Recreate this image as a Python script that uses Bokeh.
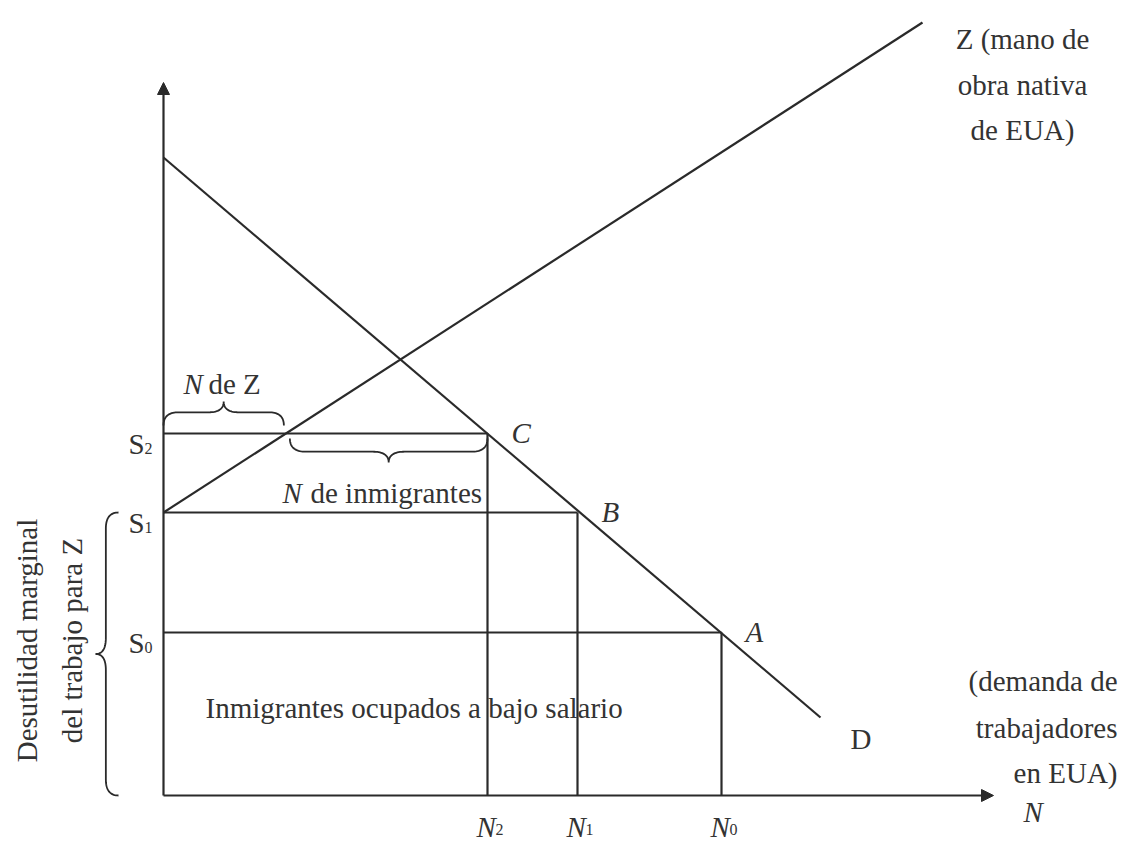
import numpy as np
from bokeh.plotting import figure
from bokeh.models import Arrow, NormalHead
from bokeh.core.properties import value
from bokeh.embed import file_html
from bokeh.resources import INLINE

# ---- data (diagram units) ----
S_labels = ["S", "S", "S"]
S_subs = ["0", "1", "2"]
S_vals = [163, 283, 362]          # S0, S1, S2
N_subs = ["0", "1", "2"]
N_vals = [558, 414, 324]          # N0, N1, N2
point_names = ["A", "B", "C"]
D_x = [0, 657]                    # demand line
D_y = [638, 78]
Z_x = [0, 759]                    # native labour supply line
Z_y = [283, 773]
x_axis_end = 830
y_axis_end = 713

Z_text = ["Z (mano de", "obra nativa", "de EUA)"]
D_text = ["(demanda de", "trabajadores", "en EUA)"]
y_title = ["Desutilidad marginal", "del trabajo para Z"]
area_text = "Inmigrantes ocupados a bajo salario"

INK = "#2a2a2a"
TXT = "#333333"
SERIF = value("Liberation Serif")
FS = "29px"
SUBFS = "16px"

W, H = 1121, 844
p = figure(width=W, height=H, x_range=(-163, -163 + W), y_range=(795 - H, 795),
           output_backend="svg", toolbar_location=None, min_border=0,
           background_fill_color="white", border_fill_color="white")
p.axis.visible = False
p.grid.visible = False
p.outline_line_color = None

# axes with arrowheads
p.add_layout(Arrow(end=NormalHead(size=12, fill_color=INK, line_color=INK, line_width=1),
                   x_start=0, y_start=0, x_end=0, y_end=y_axis_end,
                   line_color=INK, line_width=2.2))
p.add_layout(Arrow(end=NormalHead(size=12, fill_color=INK, line_color=INK, line_width=1),
                   x_start=0, y_start=0, x_end=x_axis_end, y_end=0,
                   line_color=INK, line_width=2.2))

# curves
p.line(D_x, D_y, line_color=INK, line_width=2.2)
p.line(Z_x, Z_y, line_color=INK, line_width=2.2)

# horizontal and vertical guide lines at S levels / N levels
p.segment(x0=[0] * 3, y0=S_vals, x1=N_vals, y1=S_vals, line_color=INK, line_width=2.2)
p.segment(x0=N_vals, y0=[0] * 3, x1=N_vals, y1=S_vals, line_color=INK, line_width=2.2)


def brace(a, b, base, depth, horizontal=True):
    """Curly brace from a to b, ends at `base`, tip at base+depth."""
    L = b - a
    q = min(16.0, abs(L) / 8.0)
    h = depth * 0.55
    t = np.linspace(0, 1, 20)

    def quad(P0, P1, P2):
        P0, P1, P2 = map(np.array, (P0, P1, P2))
        return ((1 - t)[:, None] ** 2 * P0 + 2 * ((1 - t) * t)[:, None] * P1
                + (t ** 2)[:, None] * P2)

    m = L / 2.0
    pts = np.vstack([
        quad((0, 0), (0, h), (q, h)),
        quad((m - q, h), (m, h), (m, depth)),
        quad((m, depth), (m, h), (m + q, h)),
        quad((L - q, h), (L, h), (L, 0)),
    ])
    u = a + pts[:, 0]
    v = base + pts[:, 1]
    if horizontal:
        return list(u), list(v)
    return list(v), list(u)


z_slope = (Z_y[1] - Z_y[0]) / (Z_x[1] - Z_x[0])
xz = (S_vals[2] - Z_y[0]) / z_slope   # where Z crosses S2

bx, by = brace(0, xz - 2, S_vals[2] + 8, 24)
p.line(bx, by, line_color=INK, line_width=1.8)
bx, by = brace(xz + 4, N_vals[2], S_vals[2] - 5, -24)
p.line(bx, by, line_color=INK, line_width=1.8)
bx, by = brace(0, S_vals[1], -45, -23, horizontal=False)
p.line(bx, by, line_color=INK, line_width=1.8)

# S labels
p.text(x=[-35] * 3, y=[s - 10 for s in S_vals], text=S_labels, text_font=SERIF,
       text_font_size=FS, text_color=TXT, text_align="left", text_baseline="alphabetic")
p.text(x=[-19] * 3, y=[s - 15 for s in S_vals], text=S_subs, text_font=SERIF,
       text_font_size=SUBFS, text_color=TXT, text_align="left", text_baseline="alphabetic")

# N labels on x axis
p.text(x=[n - 11 for n in N_vals], y=[-31] * 3, text=["N"] * 3, text_font=SERIF,
       text_font_style="italic", text_font_size=FS, text_color=TXT,
       text_align="left", text_baseline="alphabetic")
p.text(x=[n + 8 for n in N_vals], y=[-34] * 3, text=N_subs, text_font=SERIF,
       text_font_size=SUBFS, text_color=TXT,
       text_align="left", text_baseline="alphabetic")

# points A, B, C (placed right of where S-levels meet D)
p.text(x=[n + 24 for n in N_vals], y=[s + 1 for s in S_vals], text=point_names,
       text_font=SERIF, text_font_style="italic", text_font_size=FS, text_color=TXT,
       text_align="left", text_baseline="alphabetic")

# curve labels
p.text(x=[D_x[1] + 30], y=[D_y[1] - 21], text=["D"], text_font=SERIF, text_font_size=FS,
       text_color=TXT, text_align="left", text_baseline="alphabetic")
p.text(x=[859] * 3, y=[757, 711, 666], text=Z_text, text_font=SERIF, text_font_size=FS,
       text_color=TXT, text_align="center", text_baseline="alphabetic")
p.text(x=[954] * 3, y=[115, 68, 23], text=D_text, text_font=SERIF, text_font_size=FS,
       text_color=TXT, text_align="right", text_baseline="alphabetic")
p.text(x=[x_axis_end + 30], y=[-16], text=["N"], text_font=SERIF, text_font_style="italic",
       text_font_size=FS, text_color=TXT, text_align="left", text_baseline="alphabetic")

# brace labels
p.text(x=[20, 119], y=[412, 303], text=["N", "N"], text_font=SERIF, text_font_style="italic",
       text_font_size=FS, text_color=TXT, text_align="left", text_baseline="alphabetic")
p.text(x=[45, 147], y=[412, 303], text=["de Z", "de inmigrantes"], text_font=SERIF,
       text_font_size=FS, text_color=TXT, text_align="left", text_baseline="alphabetic")

# area label
p.text(x=[42], y=[88], text=[area_text], text_font=SERIF, text_font_size=FS,
       text_color=TXT, text_align="left", text_baseline="alphabetic")

# rotated y-axis title
p.text(x=[-137, -92], y=[155, 155], text=y_title, text_font=SERIF, text_font_size=FS,
       text_color=TXT, text_align="center", text_baseline="middle", angle=np.pi / 2)

open("out.html", "w").write(file_html(p, INLINE))
